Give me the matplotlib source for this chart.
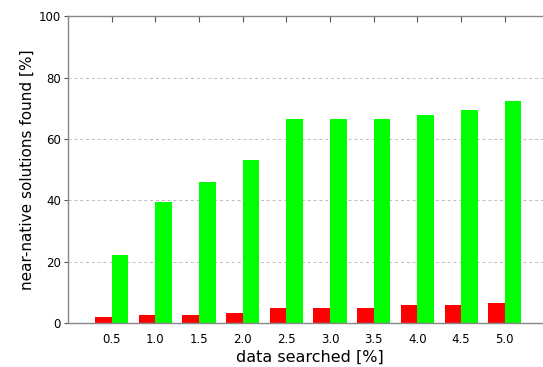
import numpy as np
import matplotlib.pyplot as plt

# fraction of the data searched (categories)
searched = ['0.5', '1.0', '1.5', '2.0', '2.5', '3.0', '3.5', '4.0', '4.5', '5.0']
# near-native solutions found [%] for the two methods
found_red = [1.8, 2.7, 2.7, 3.4, 5.0, 5.0, 5.0, 5.9, 5.9, 6.5]
found_green = [22.0, 39.3, 45.8, 53.1, 66.4, 66.4, 66.4, 67.8, 69.3, 72.4]

x = np.arange(1, len(searched) + 1)
width = 0.38

fig = plt.figure(figsize=(5.43, 3.67), dpi=100)
# axes runs a little past the right edge of the figure
ax = fig.add_axes([0.125, 0.12, 0.89, 0.836])

ax.bar(x - width / 2, found_red, width, color='#ff0000', zorder=2)
ax.bar(x + width / 2, found_green, width, color='#00ff00', zorder=2)

ax.set_xlim(0, 11.06)
ax.set_ylim(0, 100)
ax.set_yticks([0, 20, 40, 60, 80, 100])
ax.set_xticks(x)
ax.set_xticklabels(searched)

# dashed horizontal grid
for yv in [20, 40, 60, 80, 100]:
    ax.axhline(yv, color='#bbbbbb', lw=0.7, ls=(0, (3, 3)), zorder=1)

for side in ['left', 'bottom', 'top']:
    ax.spines[side].set_color('#888888')
    ax.spines[side].set_linewidth(1.0)
ax.spines['right'].set_visible(False)

ax.tick_params(axis='x', which='both', bottom=False, top=True, direction='in',
               length=4, color='#555555', labelsize=8.5, pad=7)
ax.tick_params(axis='y', which='both', direction='out', length=3,
               color='#555555', labelsize=8.5, pad=2)

ax.set_xlabel('data searched [%]', fontsize=11.5, labelpad=3)
ax.set_ylabel('near-native solutions found [%]', fontsize=11, labelpad=3)

fig.savefig('out.png', dpi=100)
